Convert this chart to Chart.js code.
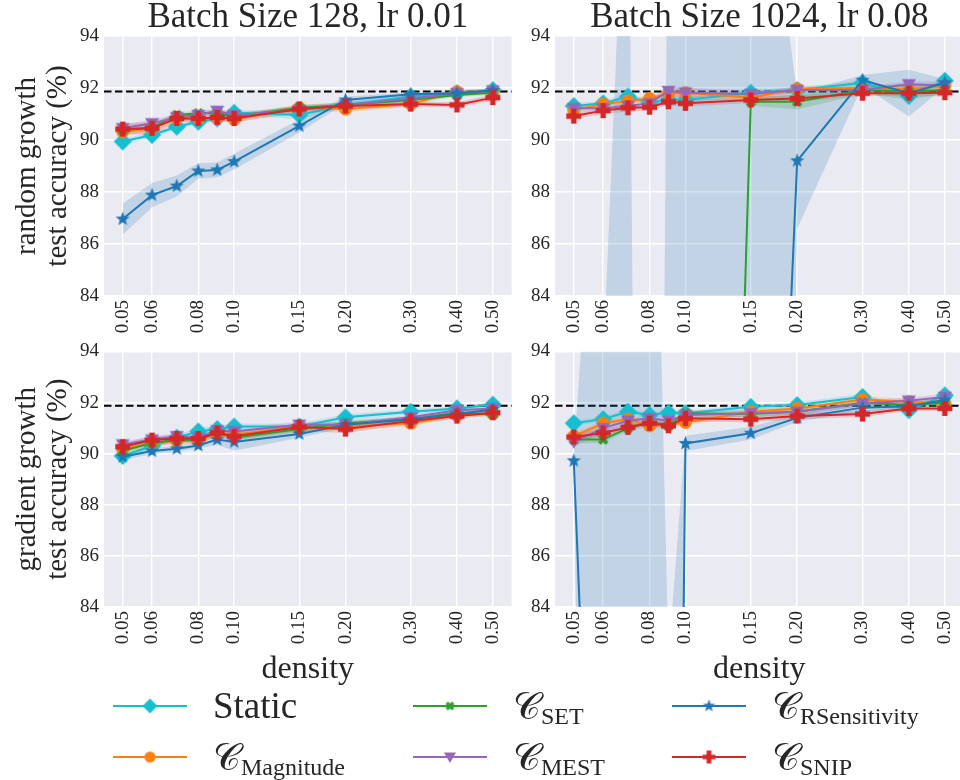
<!doctype html>
<html lang="en">
<head>
<meta charset="utf-8">
<title>Density sweep</title>
<style>
  html,body{margin:0;padding:0;width:960px;height:780px;overflow:hidden;background:#fff;}
  .panel{position:absolute;}
  .leg{position:absolute;height:50px;line-height:50px;font-family:"Liberation Serif","DejaVu Serif",serif;color:#262626;white-space:nowrap;}
  .leg canvas{position:absolute;left:0;top:10px;}
  .leg .txt{position:absolute;left:100px;top:0;font-size:37px;}
  .cal{font-size:38px;}
  .sub{font-size:24px;position:relative;top:5px;}
</style>
</head>
<body>
<canvas id="c0" class="panel" width="520" height="340" style="left:0;top:0"></canvas>
<canvas id="c1" class="panel" width="452" height="340" style="left:520px;top:0"></canvas>
<canvas id="c2" class="panel" width="520" height="354" style="left:0;top:335px"></canvas>
<canvas id="c3" class="panel" width="452" height="354" style="left:520px;top:335px"></canvas>
<div id="legend"></div>

<script src="https://cdn.jsdelivr.net/npm/chart.js@4.4.0/dist/chart.umd.min.js"></script>
<script>
// ---- data ----
const densities = [0.05, 0.06, 0.07, 0.08, 0.09, 0.10, 0.15, 0.20, 0.30, 0.40, 0.50];
const xTickVals = [0.05, 0.06, 0.08, 0.10, 0.15, 0.20, 0.30, 0.40, 0.50];
const yTickVals = [84, 86, 88, 90, 92, 94];
const denseAcc = 91.87;
const colTitles = ['Batch Size 128, lr 0.01', 'Batch Size 1024, lr 0.08'];
const rowTitles = [['random growth', 'test accuracy (%)'], ['gradient growth', 'test accuracy (%)']];

// random growth, batch 128
const rg128_static   = [89.94, 90.19, 90.51, 90.70, 90.83, 91.05, 90.96, 91.35, 91.67, 91.80, 91.92];
const rg128_static_sd= [0.10, 0.12, 0.10, 0.10, 0.10, 0.10, 0.15, 0.10, 0.10, 0.08, 0.08];
const rg128_mag      = [90.32, 90.45, 90.83, 90.83, 90.87, 90.79, 91.24, 91.19, 91.38, 91.86, 91.86];
const rg128_mag_sd   = [0.15, 0.15, 0.12, 0.10, 0.10, 0.12, 0.12, 0.12, 0.10, 0.10, 0.10];
const rg128_set      = [90.38, 90.47, 90.96, 91.03, 91.05, 90.90, 91.24, 91.35, 91.54, 91.73, 91.82];
const rg128_set_sd   = [0.12, 0.12, 0.10, 0.10, 0.10, 0.10, 0.12, 0.10, 0.10, 0.08, 0.08];
const rg128_mest     = [90.45, 90.64, 90.87, 90.96, 91.12, 90.96, 91.15, 91.35, 91.60, 91.80, 91.90];
const rg128_mest_sd  = [0.15, 0.15, 0.12, 0.12, 0.12, 0.10, 0.12, 0.10, 0.10, 0.08, 0.08];
const rg128_rsens    = [86.96, 87.88, 88.23, 88.81, 88.85, 89.17, 90.54, 91.54, 91.76, 91.80, 91.90];
const rg128_rsens_sd = [0.60, 0.47, 0.40, 0.30, 0.28, 0.30, 0.25, 0.12, 0.08, 0.08, 0.06];
const rg128_snip     = [90.42, 90.45, 90.83, 90.83, 90.87, 90.83, 91.19, 91.31, 91.38, 91.35, 91.63];
const rg128_snip_sd  = [0.20, 0.25, 0.15, 0.15, 0.15, 0.15, 0.15, 0.12, 0.10, 0.10, 0.12];

// random growth, batch 1024
const rg1024_static   = [91.31, 91.41, 91.67, 91.44, 91.54, 91.54, 91.82, 91.92, 92.20, 91.69, 92.28];
const rg1024_static_sd= [0.10, 0.10, 0.12, 0.10, 0.12, 0.10, 0.10, 0.10, 0.10, 0.10, 0.10];
const rg1024_mag      = [91.15, 91.38, 91.50, 91.60, 91.80, 91.82, 91.63, 91.97, 92.00, 91.95, 92.08];
const rg1024_mag_sd   = [0.10, 0.10, 0.12, 0.10, 0.15, 0.20, 0.12, 0.12, 0.12, 0.15, 0.12];
const rg1024_set      = [10.0, 10.0, 10.0, 10.0, 10.0, 10.0, 91.47, 91.47, 91.92, 91.86, 91.92];
const rg1024_set_sd   = [0.0, 0.0, 0.0, 0.0, 0.0, 0.0, 0.15, 0.30, 0.15, 0.30, 0.15];
const rg1024_mest     = [91.22, 91.22, 91.31, 91.41, 91.88, 91.82, 91.77, 91.92, 91.92, 92.14, 92.10];
const rg1024_mest_sd  = [0.12, 0.12, 0.15, 0.12, 0.20, 0.20, 0.12, 0.12, 0.12, 0.12, 0.15];
const rg1024_rsens    = [10.0, 40.0, 50.0, 9.0, 35.0, 40.0, 48.0, 89.20, 92.30, 91.80, 92.20];
const rg1024_rsens_sd = [0.0, 41.5, 54.0, 0.0, 69.0, 60.0, 57.0, 2.60, 0.20, 0.90, 0.15];
const rg1024_snip     = [90.92, 91.13, 91.24, 91.26, 91.47, 91.41, 91.54, 91.60, 91.80, 91.80, 91.82];
const rg1024_snip_sd  = [0.12, 0.12, 0.15, 0.12, 0.12, 0.12, 0.12, 0.12, 0.10, 0.12, 0.15];

// gradient growth, batch 128
const gg128_static   = [89.91, 90.30, 90.62, 90.87, 90.96, 91.06, 91.06, 91.42, 91.64, 91.77, 91.92];
const gg128_static_sd= [0.10, 0.10, 0.12, 0.15, 0.12, 0.12, 0.12, 0.12, 0.10, 0.08, 0.08];
const gg128_mag      = [90.17, 90.42, 90.49, 90.49, 90.81, 90.74, 91.06, 91.06, 91.19, 91.50, 91.57];
const gg128_mag_sd   = [0.12, 0.15, 0.12, 0.12, 0.12, 0.12, 0.12, 0.15, 0.12, 0.10, 0.10];
const gg128_set      = [90.10, 90.42, 90.53, 90.53, 90.84, 90.62, 90.96, 91.19, 91.35, 91.60, 91.54];
const gg128_set_sd   = [0.12, 0.12, 0.12, 0.12, 0.12, 0.12, 0.12, 0.12, 0.10, 0.10, 0.10];
const gg128_mest     = [90.36, 90.55, 90.68, 90.62, 90.91, 90.87, 91.13, 91.13, 91.42, 91.70, 91.77];
const gg128_mest_sd  = [0.12, 0.12, 0.12, 0.12, 0.12, 0.12, 0.12, 0.12, 0.10, 0.10, 0.10];
const gg128_rsens    = [89.88, 90.10, 90.19, 90.32, 90.55, 90.46, 90.77, 91.13, 91.35, 91.55, 91.73];
const gg128_rsens_sd = [0.12, 0.12, 0.12, 0.12, 0.20, 0.35, 0.15, 0.12, 0.10, 0.10, 0.10];
const gg128_snip     = [90.27, 90.53, 90.59, 90.59, 90.81, 90.68, 91.04, 90.96, 91.28, 91.47, 91.60];
const gg128_snip_sd  = [0.15, 0.15, 0.15, 0.15, 0.12, 0.15, 0.15, 0.15, 0.12, 0.10, 0.10];

// gradient growth, batch 1024
const gg1024_static   = [91.19, 91.35, 91.64, 91.51, 91.60, 91.58, 91.83, 91.90, 92.22, 91.70, 92.28];
const gg1024_static_sd= [0.10, 0.10, 0.12, 0.10, 0.10, 0.10, 0.10, 0.10, 0.12, 0.10, 0.10];
const gg1024_mag      = [90.68, 91.19, 91.35, 91.09, 91.13, 91.22, 91.64, 91.77, 92.12, 92.03, 91.96];
const gg1024_mag_sd   = [0.15, 0.12, 0.12, 0.12, 0.12, 0.12, 0.12, 0.12, 0.12, 0.12, 0.12];
const gg1024_set      = [90.55, 90.55, 91.00, 91.26, 91.09, 91.58, 91.55, 91.64, 91.99, 91.90, 91.99];
const gg1024_set_sd   = [0.15, 0.12, 0.12, 0.12, 0.12, 0.12, 0.12, 0.12, 0.12, 0.12, 0.12];
const gg1024_mest     = [90.46, 91.00, 91.29, 91.38, 91.29, 91.51, 91.58, 91.64, 91.96, 92.07, 92.22];
const gg1024_mest_sd  = [0.20, 0.15, 0.12, 0.12, 0.12, 0.12, 0.15, 0.15, 0.12, 0.12, 0.12];
const gg1024_rsens    = [89.72, 61.0, 45.0, 50.0, 30.0, 90.40, 90.80, 91.40, 91.80, 91.85, 92.10];
const gg1024_rsens_sd = [0.20, 46.0, 62.0, 63.6, 52.0, 0.30, 0.25, 0.15, 0.15, 0.10, 0.15];
const gg1024_snip     = [90.65, 90.81, 91.03, 91.19, 91.09, 91.38, 91.35, 91.47, 91.55, 91.77, 91.77];
const gg1024_snip_sd  = [0.15, 0.12, 0.12, 0.12, 0.12, 0.12, 0.12, 0.12, 0.12, 0.10, 0.10];

const seriesNames  = ['Static', 'Magnitude', 'SET', 'MEST', 'RSensitivity', 'SNIP'];
const seriesColors = ['#17becf', '#ff7f0e', '#2ca02c', '#9467bd', '#1f77b4', '#d62728'];
const seriesShapes = ['diamond', 'circle', 'xfill', 'tridown', 'star', 'plusfill'];
const shapeSizes   = [18, 13, 13, 14, 15, 15];

// ---- drawing ----
const serif = '"Liberation Serif", "DejaVu Serif", serif';
const ink = '#262626';
Chart.defaults.font.family = serif;
Chart.defaults.color = ink;

function hexA(hex, a) {
  const n = parseInt(hex.slice(1), 16);
  return 'rgba(' + (n >> 16) + ',' + ((n >> 8) & 255) + ',' + (n & 255) + ',' + a + ')';
}

function makeMarker(shape, color, size) {
  const c = document.createElement('canvas');
  c.width = c.height = size + 2;
  const g = c.getContext('2d');
  const m = (size + 2) / 2, r = size / 2;
  g.fillStyle = color;
  g.beginPath();
  if (shape === 'diamond') {
    g.moveTo(m, m - r); g.lineTo(m + r, m); g.lineTo(m, m + r); g.lineTo(m - r, m);
  } else if (shape === 'circle') {
    g.arc(m, m, r, 0, Math.PI * 2);
  } else if (shape === 'tridown') {
    g.moveTo(m - r, m - r * 0.75); g.lineTo(m + r, m - r * 0.75); g.lineTo(m, m + r);
  } else if (shape === 'star') {
    for (let i = 0; i < 10; i++) {
      const rr = i % 2 ? r * 0.42 : r;
      const a = -Math.PI / 2 + i * Math.PI / 5;
      g.lineTo(m + rr * Math.cos(a), m + rr * Math.sin(a));
    }
  } else {
    // filled plus / filled x
    const w = r * 0.36;
    const pts = [[-w, -r], [w, -r], [w, -w], [r, -w], [r, w], [w, w], [w, r], [-w, r], [-w, w], [-r, w], [-r, -w], [-w, -w]];
    const rot = shape === 'xfill' ? Math.PI / 4 : 0;
    const k = shape === 'xfill' ? 0.85 : 1;
    pts.forEach(([px, py]) => {
      const x = (px * Math.cos(rot) - py * Math.sin(rot)) * k;
      const y = (px * Math.sin(rot) + py * Math.cos(rot)) * k;
      g.lineTo(m + x, m + y);
    });
  }
  g.closePath();
  g.fill();
  return c;
}

const markers = seriesShapes.map((s, k) => makeMarker(s, seriesColors[k], shapeSizes[k]));
const legendMarkers = seriesShapes.map((s, k) => makeMarker(s, seriesColors[k], Math.round(shapeSizes[k] * 0.85)));

const bgPlugin = {
  id: 'bg',
  beforeDraw(chart) {
    const a = chart.chartArea, ctx = chart.ctx;
    ctx.save();
    ctx.fillStyle = '#eaeaf2';
    ctx.fillRect(a.left, a.top, a.right - a.left, a.bottom - a.top);
    ctx.restore();
  }
};

const densePlugin = {
  id: 'dense',
  beforeDatasetsDraw(chart) {
    const a = chart.chartArea, ctx = chart.ctx;
    const y = chart.scales.y.getPixelForValue(denseAcc);
    ctx.save();
    ctx.strokeStyle = '#000';
    ctx.lineWidth = 2;
    ctx.setLineDash([7.5, 3.5]);
    ctx.beginPath();
    ctx.moveTo(a.left, y);
    ctx.lineTo(a.right, y);
    ctx.stroke();
    ctx.restore();
  }
};

function buildDatasets(series) {
  const ds = [];
  series.forEach(([mean, sd], k) => {
    ds.push({
      data: densities.map((d, i) => ({x: d, y: mean[i] + sd[i]})),
      borderColor: 'transparent', borderWidth: 0, pointRadius: 0, fill: false, order: 20 + k
    });
    ds.push({
      data: densities.map((d, i) => ({x: d, y: mean[i] - sd[i]})),
      borderColor: 'transparent', borderWidth: 0, pointRadius: 0,
      fill: '-1', backgroundColor: hexA(seriesColors[k], 0.2), order: 20 + k
    });
  });
  series.forEach(([mean], k) => {
    ds.push({
      data: densities.map((d, i) => ({x: d, y: mean[i]})),
      borderColor: seriesColors[k], borderWidth: 2, tension: 0,
      pointStyle: markers[k], pointRadius: 6, fill: false, order: 10 - k
    });
  });
  return ds;
}

function drawPanel(id, opts) {
  const ctx = document.getElementById(id).getContext('2d');
  return new Chart(ctx, {
    type: 'line',
    data: {datasets: buildDatasets(opts.series)},
    plugins: [bgPlugin, densePlugin],
    options: {
      responsive: false,
      animation: false,
      events: [],
      layout: {padding: opts.padding},
      plugins: {
        legend: {display: false},
        tooltip: {enabled: false},
        title: {
          display: !!opts.title, text: opts.title || '', fullSize: false,
          font: {family: serif, size: 35, weight: 'normal', lineHeight: 36 / 35},
          color: ink, padding: 0
        }
      },
      scales: {
        x: {
          type: 'logarithmic', min: 0.0445, max: 0.562,
          afterBuildTicks: s => { s.ticks = xTickVals.map(v => ({value: v})); },
          afterFit: s => { s.height = opts.xHeight; },
          ticks: {
            autoSkip: false, minRotation: 90, maxRotation: 90, padding: 4,
            font: {family: serif, size: 19}, color: ink,
            callback: v => Number(v).toFixed(2)
          },
          grid: {color: '#ffffff', lineWidth: 1.4, drawTicks: false, tickLength: 0},
          border: {display: false},
          title: {
            display: !!opts.xTitle, text: opts.xTitle || '',
            font: {family: serif, size: 32, lineHeight: 1.1}, color: ink,
            padding: {top: 0, bottom: 2}
          }
        },
        y: {
          min: 84, max: 94,
          afterBuildTicks: s => { s.ticks = yTickVals.map(v => ({value: v})); },
          afterFit: s => { s.width = opts.yWidth; },
          ticks: {padding: 5, font: {family: serif, size: 19}, color: ink},
          grid: {color: '#ffffff', lineWidth: 1.4, drawTicks: false, tickLength: 0},
          border: {display: false},
          title: {
            display: !!opts.yTitle, text: opts.yTitle || '',
            font: {family: serif, size: 29, lineHeight: 1.1}, color: ink,
            padding: {top: 11, bottom: 0}
          }
        }
      }
    }
  });
}

drawPanel('c0', {
  title: colTitles[0], yTitle: rowTitles[0], xTitle: null,
  yWidth: 104, xHeight: 44, padding: {left: 0, right: 5, top: 0, bottom: 0},
  series: [[rg128_static, rg128_static_sd], [rg128_mag, rg128_mag_sd], [rg128_set, rg128_set_sd],
           [rg128_mest, rg128_mest_sd], [rg128_rsens, rg128_rsens_sd], [rg128_snip, rg128_snip_sd]]
});
drawPanel('c1', {
  title: colTitles[1], yTitle: null, xTitle: null,
  yWidth: 35, xHeight: 44, padding: {left: 0, right: 6, top: 0, bottom: 0},
  series: [[rg1024_static, rg1024_static_sd], [rg1024_mag, rg1024_mag_sd], [rg1024_set, rg1024_set_sd],
           [rg1024_mest, rg1024_mest_sd], [rg1024_rsens, rg1024_rsens_sd], [rg1024_snip, rg1024_snip_sd]]
});
drawPanel('c2', {
  title: null, yTitle: rowTitles[1], xTitle: 'density',
  yWidth: 104, xHeight: 82, padding: {left: 0, right: 5, top: 12, bottom: 0},
  series: [[gg128_static, gg128_static_sd], [gg128_mag, gg128_mag_sd], [gg128_set, gg128_set_sd],
           [gg128_mest, gg128_mest_sd], [gg128_rsens, gg128_rsens_sd], [gg128_snip, gg128_snip_sd]]
});
drawPanel('c3', {
  title: null, yTitle: null, xTitle: 'density',
  yWidth: 35, xHeight: 82, padding: {left: 0, right: 6, top: 12, bottom: 0},
  series: [[gg1024_static, gg1024_static_sd], [gg1024_mag, gg1024_mag_sd], [gg1024_set, gg1024_set_sd],
           [gg1024_mest, gg1024_mest_sd], [gg1024_rsens, gg1024_rsens_sd], [gg1024_snip, gg1024_snip_sd]]
});

// ---- legend (3 columns, filled column-wise) ----
const legendCols = [113, 413, 672];
const legendRows = [706, 757];
const legendBox = document.getElementById('legend');
seriesNames.forEach((name, k) => {
  const col = Math.floor(k / 2), row = k % 2;
  const div = document.createElement('div');
  div.className = 'leg';
  div.style.left = legendCols[col] + 'px';
  div.style.top = (legendRows[row] - 25) + 'px';
  const cv = document.createElement('canvas');
  cv.width = 76; cv.height = 30;
  const g = cv.getContext('2d');
  g.strokeStyle = seriesColors[k];
  g.lineWidth = 2;
  g.beginPath(); g.moveTo(0, 15); g.lineTo(74, 15); g.stroke();
  const mk = legendMarkers[k];
  g.drawImage(mk, 37 - mk.width / 2, 15 - mk.height / 2);
  div.appendChild(cv);
  const t = document.createElement('span');
  t.className = 'txt';
  if (name === 'Static') {
    t.textContent = name;
  } else {
    t.innerHTML = '<span class="cal">\u{1D49E}</span><span class="sub">' + name + '</span>';
  }
  div.appendChild(t);
  legendBox.appendChild(div);
});
</script>
</body>
</html>
